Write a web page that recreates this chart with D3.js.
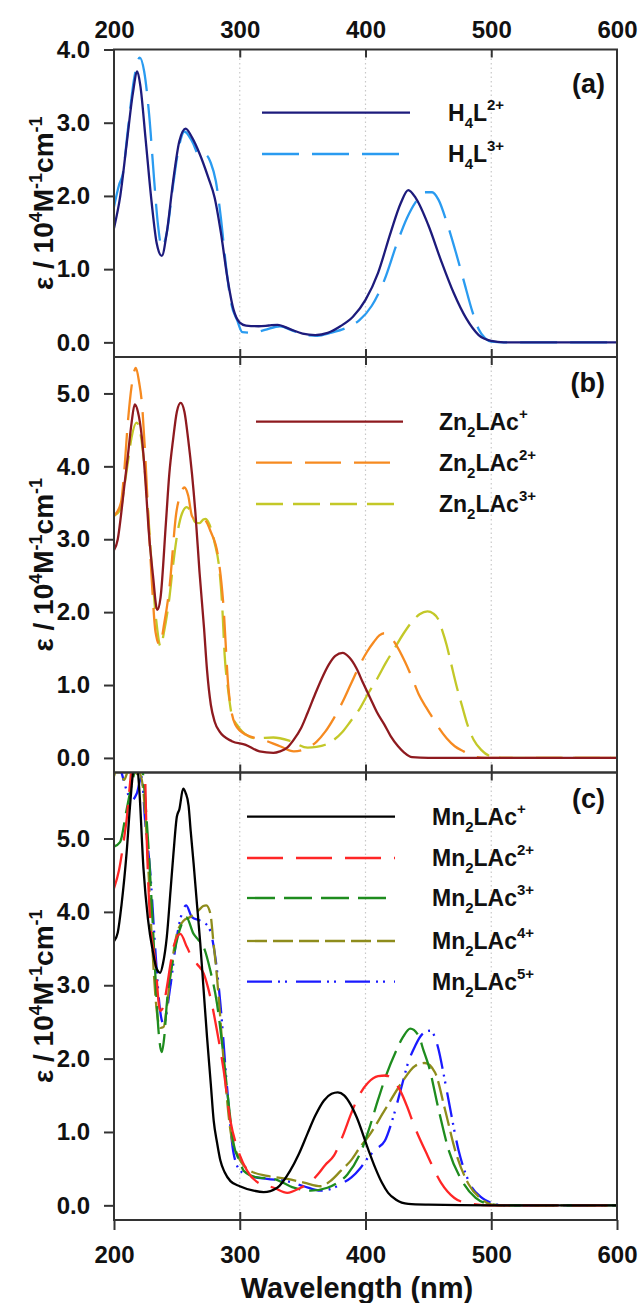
<!DOCTYPE html>
<html lang="en">
<head>
    <meta charset="UTF-8">
    <title>UV-vis spectra</title>
    <script src="https://d3js.org/d3.v7.min.js"></script>
    <style>
        body { margin: 0; background: #fff; }
        text { font-family: "Liberation Sans", Arial, sans-serif; font-weight: bold; fill: #111; }
    </style>
</head>
<body>
<script>
    // wavelength (nm), epsilon (10^4 M-1 cm-1)
    var h4l2 = [[200,1.56],[205,2.0],[210,2.7],[215,3.4],[218.5,3.70],[221,3.5],[225,2.8],[230,1.9],[234,1.35],[238,1.18],[242,1.5],[247,2.2],[252,2.75],[257,2.92],[262,2.8],[268,2.58],[275,2.25],[280,1.98],[285,1.5],[290,0.9],[295,0.45],[300,0.27],[305,0.23],[315,0.22],[323,0.23],[330,0.24],[340,0.18],[350,0.12],[360,0.1],[370,0.13],[380,0.22],[390,0.35],[400,0.58],[410,0.95],[420,1.5],[428,1.9],[434,2.08],[440,1.97],[450,1.6],[460,1.12],[470,0.68],[480,0.33],[490,0.1],[500,0.02],[510,0],[600,0]];
    var h4l3 = [[200,1.85],[204,2.15],[207,2.3],[211,2.9],[216,3.6],[220.5,3.89],[224,3.7],[228,3.1],[232,2.2],[235,1.6],[238,1.3],[242,1.5],[247,2.15],[252,2.7],[256,2.88],[262,2.75],[268,2.55],[273,2.56],[277,2.45],[281,2.2],[285,1.7],[289,1.05],[293,0.55],[298,0.3],[302,0.14],[310,0.13],[320,0.17],[332,0.22],[342,0.16],[352,0.1],[362,0.09],[372,0.13],[385,0.2],[395,0.3],[405,0.5],[415,0.85],[425,1.35],[433,1.7],[440,1.92],[447,2.05],[453,2.05],[458,1.95],[465,1.62],[472,1.22],[478,0.85],[485,0.42],[490,0.18],[495,0.06],[500,0.01],[510,0],[600,0]];

    var zn1 = [[200,2.85],[203,3.0],[205.5,3.32],[208,3.7],[211,4.14],[214,4.6],[216.5,4.85],[219,4.75],[222,4.42],[225,3.8],[227.5,3.14],[231,2.5],[234.4,2.03],[237,2.2],[241.3,3.23],[244,3.9],[247,4.37],[250,4.75],[253,4.87],[256,4.75],[259,4.37],[262,3.9],[264.7,3.37],[268,2.55],[271.6,1.78],[274,1.2],[277,0.73],[280,0.5],[284,0.36],[293.7,0.23],[304.7,0.18],[315.7,0.09],[326.7,0.07],[332,0.09],[337.7,0.14],[343,0.25],[348.8,0.41],[354,0.62],[359.8,0.87],[365,1.08],[370.8,1.28],[376,1.4],[381.8,1.44],[387,1.38],[392.8,1.23],[398,1.03],[403.8,0.82],[409,0.63],[414.9,0.46],[420,0.3],[425.9,0.16],[431,0.07],[437,0.01],[450,0],[600,0]];
    var zn2 = [[200,3.32],[205.5,3.5],[208,3.9],[211,4.6],[214,5.1],[217.4,5.35],[220,5.15],[222,4.9],[225,4.1],[227.5,3.23],[230,2.45],[233,1.73],[236.4,1.55],[240,1.85],[244,2.32],[249.6,3.37],[253,3.62],[256,3.71],[259,3.6],[262,3.32],[266,3.25],[271.6,3.27],[277,3.1],[282.6,2.78],[286.8,2.14],[291,0.96],[296.4,0.46],[304.7,0.32],[318.5,0.25],[332,0.16],[343,0.09],[354,0.14],[361,0.22],[368,0.36],[375,0.55],[381.8,0.77],[388,1.0],[395.6,1.28],[401,1.45],[406.6,1.59],[411,1.68],[414.9,1.71],[419,1.68],[423,1.59],[431.4,1.32],[437,1.1],[442.4,0.87],[448,0.7],[453.4,0.55],[458,0.42],[464.5,0.27],[471,0.16],[478,0.09],[486.5,0.02],[495,0],[600,0]];
    var zn3 = [[200,3.32],[205.5,3.42],[208,3.7],[211,4.05],[214,4.4],[218,4.6],[220.5,4.5],[223.4,4.14],[227,3.4],[230.3,2.55],[233.5,1.9],[237,1.53],[240,1.75],[244,2.19],[247,2.65],[251,3.14],[254,3.35],[257.9,3.44],[261,3.38],[264.7,3.23],[268,3.22],[271,3.27],[273,3.28],[276,3.2],[279.9,2.96],[284,2.55],[286,2.1],[288,1.41],[291,0.9],[293.7,0.59],[298,0.45],[302,0.36],[313,0.27],[326.7,0.28],[340.5,0.23],[354,0.14],[361,0.15],[368,0.18],[375,0.25],[381.8,0.36],[388,0.5],[395.6,0.68],[402,0.88],[409.4,1.09],[416,1.3],[423,1.5],[430,1.7],[437,1.87],[443,1.97],[449.3,2.01],[454,1.98],[457.6,1.91],[461,1.75],[464.5,1.55],[468,1.3],[472.8,0.96],[477,0.7],[481,0.46],[486,0.25],[492,0.11],[500,0.02],[510,0],[600,0]];

    var mn1 = [[200,3.6],[203,3.72],[206,4.1],[210,4.8],[213,5.5],[216,6.0],[218,6.05],[220,5.7],[223.4,4.6],[227,3.9],[231,3.45],[234,3.22],[236.7,3.17],[239,3.3],[242,3.66],[245,4.3],[247.3,4.8],[250,5.3],[252,5.4],[255,5.68],[257,5.62],[259.3,5.45],[261,5.1],[263.3,4.66],[266,4.1],[268.6,3.57],[271,3.0],[274,2.29],[277,1.65],[279.3,1.15],[282,0.85],[284.6,0.61],[288,0.45],[292.6,0.33],[300,0.26],[311,0.2],[319,0.18],[329.8,0.24],[340,0.47],[347,0.7],[353.7,0.97],[360,1.22],[367,1.43],[373,1.52],[378,1.54],[383,1.5],[388,1.38],[393,1.2],[402,0.77],[408,0.5],[413,0.31],[418,0.17],[424,0.08],[434,0.02],[450,0.01],[500,0],[600,0]];
    var mn2 = [[200,4.32],[204,4.57],[208,5.0],[210,5.25],[213,5.8],[216,6.3],[222,6.3],[224,6.2],[226,5.0],[228.7,3.88],[232.7,3.34],[236.7,2.65],[239,2.7],[242,2.97],[245,3.3],[247.3,3.52],[252.7,3.70],[258,3.52],[262,3.38],[266,3.29],[271.3,3.16],[276.6,2.84],[281.9,2.38],[287.2,1.84],[292.6,1.15],[297.9,0.79],[305.9,0.47],[316.5,0.29],[327,0.24],[337.8,0.17],[348.4,0.24],[355,0.3],[362,0.42],[368,0.55],[375,0.68],[382,0.95],[388.8,1.26],[395,1.5],[402,1.67],[410,1.76],[416,1.77],[420,1.74],[428,1.55],[433,1.35],[438.6,1.09],[449.3,0.68],[460,0.31],[470.7,0.1],[481.4,0.03],[500,0],[600,0]];
    var mn3 = [[200,4.89],[204.8,4.95],[210,5.39],[215.4,5.84],[218,6.0],[222,6.0],[224,5.7],[226,5.25],[230,4.11],[232.7,3.2],[235.4,2.38],[238,2.09],[240,2.3],[242,2.75],[247.3,3.38],[254,3.84],[257.4,3.93],[263.3,3.7],[267,3.62],[271.3,3.52],[276.6,3.2],[281.9,2.75],[287.2,2.02],[291.2,1.38],[295.2,0.83],[300,0.6],[303.2,0.47],[313.8,0.38],[327,0.36],[343,0.24],[356.4,0.2],[369.7,0.24],[377,0.3],[385.6,0.42],[396.8,0.75],[403,1.05],[410,1.44],[417,1.8],[423.7,2.08],[430,2.3],[435.6,2.41],[442.3,2.31],[446,2.12],[450.3,1.9],[458.2,1.3],[466.2,0.75],[476.9,0.33],[487.6,0.1],[498,0.02],[510,0],[600,0]];
    var mn4 = [[200,5.85],[204,6.0],[208,5.8],[212,5.95],[216,5.85],[220,5.9],[223,5.7],[226,5.02],[230,3.66],[234,2.65],[237,2.42],[239.4,2.43],[242,2.7],[244.7,3.11],[250,3.7],[255.3,3.88],[260.6,3.93],[267.3,4.02],[271,4.08],[273.4,4.09],[276.6,3.98],[279,3.6],[281.9,3.11],[287.2,1.97],[292.6,1.02],[297.9,0.7],[308.5,0.47],[321.8,0.4],[337.8,0.36],[351,0.31],[364.4,0.26],[372,0.33],[380.3,0.47],[388.8,0.62],[396,0.8],[402,0.93],[415.4,1.3],[428.7,1.67],[439.4,1.9],[447.3,1.94],[455.3,1.81],[463.3,1.3],[471.3,0.75],[481.9,0.29],[492.6,0.08],[500.5,0.01],[510,0],[600,0]];
    var mn5 = [[200,6.1],[205,5.95],[210,5.66],[214,5.52],[218,5.61],[222,5.84],[224.7,5.25],[228.7,4.57],[232.7,3.52],[236.7,2.65],[239.4,2.47],[244.7,2.97],[250,3.66],[254,3.98],[257.4,4.09],[262,3.93],[268.6,3.88],[275.3,3.79],[280.6,3.38],[284.6,2.75],[289.9,1.61],[295.2,0.7],[300.5,0.47],[308.5,0.4],[321.8,0.36],[337.8,0.33],[351,0.26],[364.4,0.2],[372,0.22],[380.3,0.29],[388.8,0.38],[396,0.51],[402,0.65],[408,0.76],[415.4,0.88],[422,1.2],[428.7,1.62],[434,1.95],[439.4,2.17],[445,2.33],[451.4,2.38],[455,2.3],[458,2.13],[462,1.8],[466,1.44],[474,0.75],[482,0.33],[492.6,0.1],[500.5,0.03],[510,0],[600,0]];

    var xTicks = [200, 300, 400, 500, 600];
    var gridTicks = [300, 400, 500];
    var yTicksA = [0, 1, 2, 3, 4];
    var yTicksBC = [0, 1, 2, 3, 4, 5];

    var w = 640, h = 1303;
    var left = 114, right = 617;

    var panels = [
        {tag: "(a)", top: 49.5, bottom: 357, domain: [-0.2, 4.0], ticks: yTicksA, legX: [262, 410, 448],
            series: [
                {name: [["H"], ["4", "sub"], ["L"], ["2+", "sup"]], data: h4l2, color: "#1d1b7c", dash: null, ly: 112.7},
                {name: [["H"], ["4", "sub"], ["L"], ["3+", "sup"]], data: h4l3, color: "#2a9bf0", dash: "37,13", ly: 154}
            ]},
        {tag: "(b)", top: 357, bottom: 772.5, domain: [-0.2, 5.5], ticks: yTicksBC, legX: [256, 403, 439],
            series: [
                {name: [["Zn"], ["2", "sub"], ["LAc"], ["+", "sup"]], data: zn1, color: "#8e1a1f", dash: null, ly: 421.7},
                {name: [["Zn"], ["2", "sub"], ["LAc"], ["2+", "sup"]], data: zn2, color: "#f68a20", dash: "36,13", ly: 462.7},
                {name: [["Zn"], ["2", "sub"], ["LAc"], ["3+", "sup"]], data: zn3, color: "#c3c828", dash: "27,10", ly: 504}
            ]},
        {tag: "(c)", top: 772.5, bottom: 1220, domain: [-0.2, 5.9], ticks: yTicksBC, legX: [247, 395, 432],
            series: [
                {name: [["Mn"], ["2", "sub"], ["LAc"], ["+", "sup"]], data: mn1, color: "#000000", dash: null, ly: 816.7},
                {name: [["Mn"], ["2", "sub"], ["LAc"], ["2+", "sup"]], data: mn2, color: "#ff2626", dash: "36,13", ly: 858},
                {name: [["Mn"], ["2", "sub"], ["LAc"], ["3+", "sup"]], data: mn3, color: "#1e8c1e", dash: "28,9", ly: 898},
                {name: [["Mn"], ["2", "sub"], ["LAc"], ["4+", "sup"]], data: mn4, color: "#8e8c1c", dash: "20,6", ly: 941},
                {name: [["Mn"], ["2", "sub"], ["LAc"], ["5+", "sup"]], data: mn5, color: "#1a1aff", dash: "25,6,2,5,2,9", ly: 981.7}
            ]}
    ];

    var svg = d3.select("body").append("svg").attr("width", w).attr("height", h);
    var x = d3.scaleLinear().domain([200, 600]).range([left, right]);

    // write text with sub/superscripts
    function rich(t, parts, small) {
        var off = 0;
        parts.forEach(function (p) {
            var target = p[1] === "sub" ? small.sub : p[1] === "sup" ? small.sup : 0;
            var ts = t.append("tspan").text(p[0]).attr("dy", target - off);
            if (p[1]) ts.attr("font-size", small.size);
            off = target;
        });
    }

    panels.forEach(function (p, i) {
        var y = d3.scaleLinear().domain(p.domain).range([p.bottom, p.top]);
        var g = svg.append("g");

        g.append("clipPath").attr("id", "clip" + i).append("rect")
            .attr("x", left).attr("y", p.top).attr("width", right - left).attr("height", p.bottom - p.top);

        // dotted grid
        g.selectAll(".grid").data(gridTicks).enter().append("line")
            .attr("x1", x).attr("x2", x).attr("y1", p.top).attr("y2", p.bottom)
            .attr("stroke", "#c8c8c8").attr("stroke-width", 1.2).attr("stroke-dasharray", "1.5,3");

        // inner ticks top and bottom
        var tTop = g.append("g").attr("transform", "translate(0," + p.top + ")")
            .call(d3.axisBottom(x).tickValues(gridTicks).tickSize(8).tickSizeOuter(0).tickFormat(""));
        var tBot = g.append("g").attr("transform", "translate(0," + p.bottom + ")")
            .call(d3.axisTop(x).tickValues(gridTicks).tickSize(8).tickSizeOuter(0).tickFormat(""));
        [tTop, tBot].forEach(function (a) {
            a.select(".domain").remove();
            a.selectAll("line").attr("stroke", "#333").attr("stroke-width", 2);
        });

        // y axis
        var ya = g.append("g").attr("transform", "translate(" + left + ",0)")
            .call(d3.axisLeft(y).tickValues(p.ticks).tickFormat(d3.format(".1f")).tickSize(10).tickSizeOuter(0).tickPadding(14));
        ya.select(".domain").remove();
        ya.selectAll("line").attr("stroke", "#333").attr("stroke-width", 2);
        ya.selectAll("text").attr("font-size", 24).attr("font-family", null);

        // curves
        var line = d3.line().x(function (d) { return x(d[0]); }).y(function (d) { return y(d[1]); })
            .curve(d3.curveMonotoneX);
        var cg = g.append("g").attr("clip-path", "url(#clip" + i + ")");
        p.series.slice().reverse().forEach(function (s) {
            cg.append("path").datum(s.data).attr("d", line)
                .attr("fill", "none").attr("stroke", s.color).attr("stroke-width", 2.3)
                .attr("stroke-linejoin", "round")
                .attr("stroke-dasharray", s.dash);
        });

        // frame
        g.append("rect").attr("x", left).attr("y", p.top).attr("width", right - left).attr("height", p.bottom - p.top)
            .attr("fill", "none").attr("stroke", "#333").attr("stroke-width", 2);

        // legend
        p.series.forEach(function (s) {
            g.append("line").attr("x1", p.legX[0]).attr("x2", p.legX[1]).attr("y1", s.ly).attr("y2", s.ly)
                .attr("stroke", s.color).attr("stroke-width", 2.3).attr("stroke-dasharray", s.dash);
            var t = g.append("text").attr("x", p.legX[2]).attr("y", s.ly + 8).attr("font-size", 23);
            rich(t, s.name, {size: 15, sub: 7, sup: -11});
        });

        g.append("text").attr("x", 605).attr("y", p.top + (i === 0 ? 43 : 35)).attr("text-anchor", "end")
            .attr("font-size", 27).text(p.tag);

        // y title
        var yt = g.append("text").attr("font-size", 28).attr("text-anchor", "middle")
            .attr("transform", "translate(53," + ((p.top + p.bottom) / 2) + ") rotate(-90)");
        rich(yt, [["\u03b5 / 10"], ["4", "sup"], ["M"], ["-1", "sup"], ["cm"], ["-1", "sup"]], {size: 18, sub: 0, sup: -11});
    });

    // top labels
    var topAx = svg.append("g").attr("transform", "translate(0,49.5)")
        .call(d3.axisTop(x).tickValues(xTicks).tickSize(0).tickPadding(12).tickFormat(d3.format("d")));
    topAx.select(".domain").remove();
    topAx.selectAll("text").attr("font-size", 24).attr("font-family", null);

    // bottom axis
    var botAx = svg.append("g").attr("transform", "translate(0,1220)")
        .call(d3.axisBottom(x).tickValues(xTicks).tickSize(10).tickSizeOuter(0).tickPadding(16).tickFormat(d3.format("d")));
    botAx.select(".domain").remove();
    botAx.selectAll("line").attr("stroke", "#333").attr("stroke-width", 2);
    botAx.selectAll("text").attr("font-size", 24).attr("font-family", null);

    svg.append("text").attr("x", 357).attr("y", 1298).attr("text-anchor", "middle")
        .attr("font-size", 29).text("Wavelength (nm)");
</script>
</body>
</html>
